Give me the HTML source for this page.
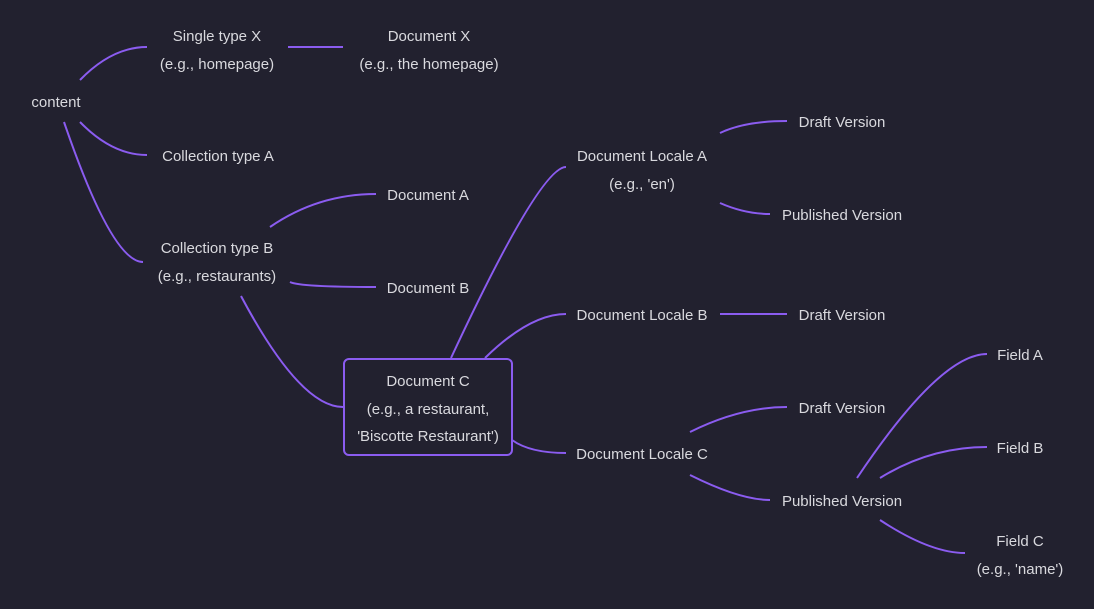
<!DOCTYPE html>
<html><head><style>
html,body{margin:0;padding:0;background:#22212f;}
svg{display:block}
text{font-family:"Liberation Sans",sans-serif;font-size:15px;fill:#d9d9de;text-anchor:middle;dominant-baseline:middle}
path{fill:none;stroke:#8b5cf0;stroke-width:2}
</style></head><body>
<svg width="1094" height="609" viewBox="0 0 1094 609">
<rect width="1094" height="609" fill="#22212f"/>
<g>
<path d="M80 80 Q112 47 147 47"/>
<path d="M288 47 L343 47"/>
<path d="M80 122 Q112 155 147 155"/>
<path d="M64 122 Q112 262 143 262"/>
<path d="M270 227 Q318 194 376 194"/>
<path d="M290 282 Q300 287 376 287"/>
<path d="M241 296 Q300 407 343 407"/>
<path d="M451 358 Q540 167 566 167"/>
<path d="M485 358 Q530 314 566 314"/>
<path d="M512 440 Q530 453 566 453"/>
<path d="M720 133 Q745 121 787 121"/>
<path d="M720 203 Q745 214 770 214"/>
<path d="M720 314 L787 314"/>
<path d="M690 432 Q740 407 787 407"/>
<path d="M690 475 Q740 500 770 500"/>
<path d="M857 478 Q940 354 987 354"/>
<path d="M880 478 Q930 447 987 447"/>
<path d="M880 520 Q930 553 965 553"/>
<rect x="344" y="359" width="168" height="96" rx="5" fill="#22212f" stroke="#8b5cf0" stroke-width="2"/>
</g>
<g transform="translate(0,2)">
<text x="56" y="101">content</text>
<text x="217" y="35">Single type X</text>
<text x="217" y="63">(e.g., homepage)</text>
<text x="429" y="35">Document X</text>
<text x="429" y="63">(e.g., the homepage)</text>
<text x="218" y="155">Collection type A</text>
<text x="217" y="247">Collection type B</text>
<text x="217" y="275">(e.g., restaurants)</text>
<text x="428" y="194">Document A</text>
<text x="428" y="287">Document B</text>
<text x="428" y="380">Document C</text>
<text x="428" y="408">(e.g., a restaurant,</text>
<text x="428" y="435">'Biscotte Restaurant')</text>
<text x="642" y="155">Document Locale A</text>
<text x="642" y="183">(e.g., 'en')</text>
<text x="642" y="314">Document Locale B</text>
<text x="642" y="453">Document Locale C</text>
<text x="842" y="121">Draft Version</text>
<text x="842" y="214">Published Version</text>
<text x="842" y="314">Draft Version</text>
<text x="842" y="407">Draft Version</text>
<text x="842" y="500">Published Version</text>
<text x="1020" y="354">Field A</text>
<text x="1020" y="447">Field B</text>
<text x="1020" y="540">Field C</text>
<text x="1020" y="568">(e.g., 'name')</text>
</g>
</svg>
</body></html>
